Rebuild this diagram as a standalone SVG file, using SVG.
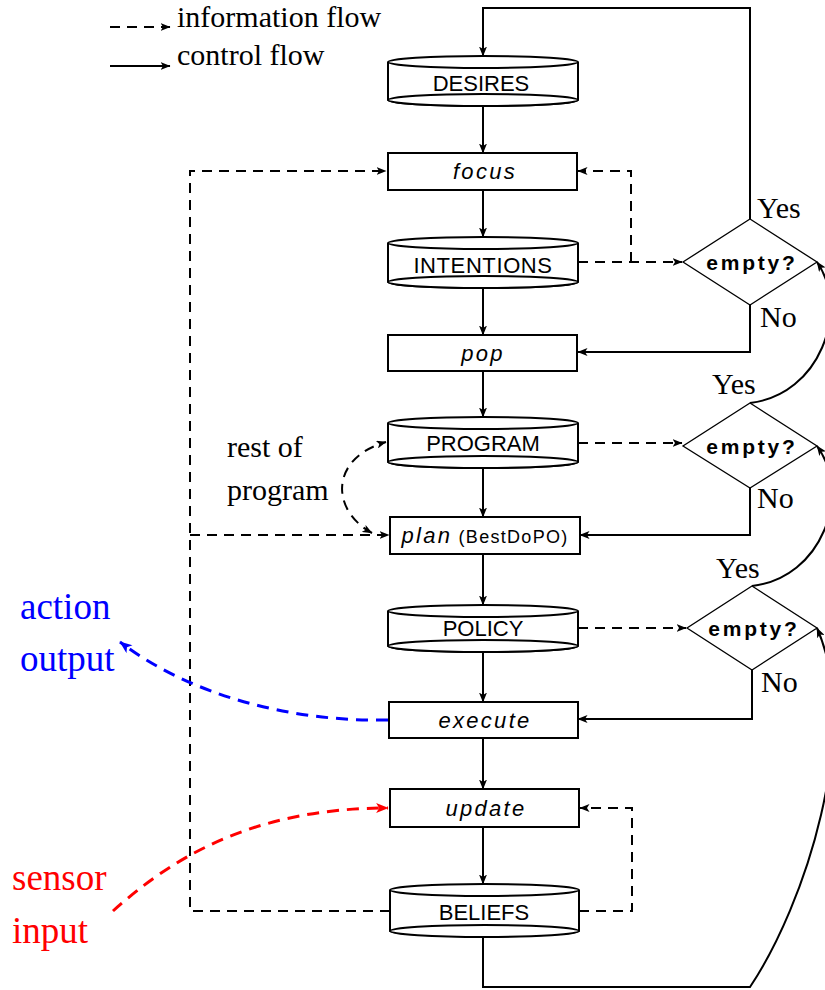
<svg xmlns="http://www.w3.org/2000/svg" width="825" height="990" viewBox="0 0 825 990">
  <style>
    .box { fill: #fff; stroke: #000; stroke-width: 2; }
    .cyl { fill: #fff; stroke: #000; stroke-width: 2; }
    .dia { fill: #fff; stroke: #000; stroke-width: 1.3; }
    .ctl { fill: none; stroke: #000; stroke-width: 2; marker-end: url(#ah); }
    .inf { fill: none; stroke: #000; stroke-width: 2; stroke-dasharray: 10 7; }
    .infa { fill: none; stroke: #000; stroke-width: 2; stroke-dasharray: 10 7; marker-end: url(#ah); }
    .lbl { font-family: "Liberation Sans", Arial, sans-serif; font-size: 22px; text-anchor: middle; fill: #000; }
    .op { font-style: italic; letter-spacing: 2.3px; }
    .q { font-family: "Liberation Sans", Arial, sans-serif; font-size: 21px; font-weight: bold; letter-spacing: 2.8px; text-anchor: middle; }
    .serif { font-family: "Liberation Serif", "Times New Roman", serif; font-size: 30px; fill: #000; }
    .big { font-family: "Liberation Serif", "Times New Roman", serif; font-size: 37px; }
  </style>
  <defs>
    <marker id="ah" viewBox="0 0 10 8" refX="9.5" refY="4" markerWidth="10" markerHeight="8" markerUnits="userSpaceOnUse" orient="auto-start-reverse">
      <path d="M0,0 L10,4 L0,8 L2.5,4 Z" fill="#000"/>
    </marker>
    <marker id="ahb" viewBox="0 0 10 8" refX="9.5" refY="4" markerWidth="13" markerHeight="10" markerUnits="userSpaceOnUse" orient="auto">
      <path d="M0,0 L10,4 L0,8 L2.5,4 Z" fill="#0000ff"/>
    </marker>
    <marker id="ahr" viewBox="0 0 10 8" refX="9.5" refY="4" markerWidth="13" markerHeight="10" markerUnits="userSpaceOnUse" orient="auto">
      <path d="M0,0 L10,4 L0,8 L2.5,4 Z" fill="#ff0000"/>
    </marker>
  </defs>

  <!-- legend -->
  <g id="legend">
    <path class="infa" d="M110,27 H170"/>
    <text class="serif" x="177" y="27">information flow</text>
    <path class="ctl" d="M110,66 H170"/>
    <text class="serif" x="177" y="65">control flow</text>
  </g>

  <!-- connectors -->
  <g id="connectors">
    <!-- main control column -->
    <path class="ctl" d="M483,106 V153"/>
    <path class="ctl" d="M483,190 V237"/>
    <path class="ctl" d="M483,288 V335"/>
    <path class="ctl" d="M483,371 V417"/>
    <path class="ctl" d="M483,468 V517"/>
    <path class="ctl" d="M483,554 V605"/>
    <path class="ctl" d="M483,652 V702"/>
    <path class="ctl" d="M483,738 V789"/>
    <path class="ctl" d="M483,827 V884"/>

    <!-- loop back to desires -->
    <path class="ctl" d="M750,219 V8 H483 V56"/>

    <!-- "No" branches -->
    <path class="ctl" d="M750,305 V352 H578"/>
    <path class="ctl" d="M750,488 V535 H580"/>
    <path class="ctl" d="M752,670 V719 H578"/>

    <!-- "Yes" branches and return from beliefs -->
    <path class="ctl" d="M750,403 C820,395 850,310 817,262"/>
    <path class="ctl" d="M752,586 C822,578 852,494 817,446"/>
    <path class="ctl" d="M483,936 V987 H750 C805,905 862,730 817,628"/>

    <!-- information flow -->
    <path class="infa" d="M578,262 H682"/>
    <path class="infa" d="M631,262 V171 H578"/>
    <path class="infa" d="M578,443 H682"/>
    <path class="infa" d="M578,628 H686"/>
    <path class="infa" d="M579,911 H632 V808 H580"/>
    <path class="infa" d="M390,911 H190 V171 H386"/>
    <path class="infa" d="M190,535 H389"/>
    <path class="inf" d="M372,533 C330,510 330,458 386,442" marker-start="url(#ah)" marker-end="url(#ah)"/>

    <!-- external action / sensing -->
    <path d="M388,720 C290,722 190,695 120,642" fill="none" stroke="#0000ff" stroke-width="3" stroke-dasharray="12 8" marker-end="url(#ahb)"/>
    <path d="M113,911 C170,860 250,808 388,808" fill="none" stroke="#ff0000" stroke-width="3" stroke-dasharray="12 8" marker-end="url(#ahr)"/>
  </g>

  <!-- nodes -->
  <g id="desires">
    <path class="cyl" d="M388,62 V100 A95,6 0 0 0 578,100 V62"/>
    <ellipse class="cyl" cx="483" cy="62" rx="95" ry="6"/>
    <ellipse class="cyl" cx="483" cy="100" rx="95" ry="6" fill="none"/>
    <text class="lbl" x="481" y="91">DESIRES</text>
  </g>

  <g id="focus">
    <rect class="box" x="388" y="153" width="189" height="37"/>
    <text class="lbl op" x="485" y="179">focus</text>
  </g>

  <g id="intentions">
    <path class="cyl" d="M388,243 V282 A95,6 0 0 0 578,282 V243"/>
    <ellipse class="cyl" cx="483" cy="243" rx="95" ry="6"/>
    <ellipse class="cyl" cx="483" cy="282" rx="95" ry="6" fill="none"/>
    <text class="lbl" x="483" y="273" letter-spacing="0.6">INTENTIONS</text>
  </g>

  <g id="pop">
    <rect class="box" x="388" y="335" width="189" height="36"/>
    <text class="lbl op" x="483" y="361">pop</text>
  </g>

  <g id="program">
    <path class="cyl" d="M388,423 V462 A95,6 0 0 0 578,462 V423"/>
    <ellipse class="cyl" cx="483" cy="423" rx="95" ry="6"/>
    <ellipse class="cyl" cx="483" cy="462" rx="95" ry="6" fill="none"/>
    <text class="lbl" x="483" y="451">PROGRAM</text>
  </g>

  <g id="plan">
    <rect class="box" x="390" y="517" width="190" height="37"/>
    <text class="lbl" x="485" y="543"><tspan class="op">plan</tspan><tspan font-size="18" letter-spacing="1.3"> (BestDoPO)</tspan></text>
  </g>

  <g id="policy">
    <path class="cyl" d="M388,611 V646 A95,6 0 0 0 578,646 V611"/>
    <ellipse class="cyl" cx="483" cy="611" rx="95" ry="6"/>
    <ellipse class="cyl" cx="483" cy="646" rx="95" ry="6" fill="none"/>
    <text class="lbl" x="483" y="636">POLICY</text>
  </g>

  <g id="execute">
    <rect class="box" x="389" y="702" width="189" height="36"/>
    <text class="lbl op" x="485" y="728">execute</text>
  </g>

  <g id="update">
    <rect class="box" x="390" y="789" width="189" height="38"/>
    <text class="lbl op" x="486" y="816">update</text>
  </g>

  <g id="beliefs">
    <path class="cyl" d="M390,890 V931 A95,6 0 0 0 579,931 V890"/>
    <ellipse class="cyl" cx="484.5" cy="890" rx="94.5" ry="6"/>
    <ellipse class="cyl" cx="484.5" cy="931" rx="94.5" ry="6" fill="none"/>
    <text class="lbl" x="484" y="920">BELIEFS</text>
  </g>

  <g id="check-intentions">
    <polygon class="dia" points="750,219 817,262 750,305 683,262"/>
    <text class="q" x="752" y="270">empty?</text>
    <text class="serif" x="757" y="218">Yes</text>
    <text class="serif" x="760" y="327">No</text>
  </g>

  <g id="check-program">
    <polygon class="dia" points="750,403 817,446 750,488 683,446"/>
    <text class="q" x="752" y="454">empty?</text>
    <text class="serif" x="712" y="394">Yes</text>
    <text class="serif" x="757" y="508">No</text>
  </g>

  <g id="check-policy">
    <polygon class="dia" points="752,586 817,628 752,670 687,628"/>
    <text class="q" x="754" y="636">empty?</text>
    <text class="serif" x="716" y="578">Yes</text>
    <text class="serif" x="761" y="692">No</text>
  </g>

  <!-- free labels -->
  <g id="labels">
    <text class="serif" x="227" y="457">rest of</text>
    <text class="serif" x="227" y="500">program</text>
    <text class="big" x="20" y="619" fill="#0000ff">action</text>
    <text class="big" x="20" y="671" fill="#0000ff">output</text>
    <text class="big" x="12" y="890" fill="#ff0000">sensor</text>
    <text class="big" x="12" y="943" fill="#ff0000">input</text>
  </g>
</svg>
